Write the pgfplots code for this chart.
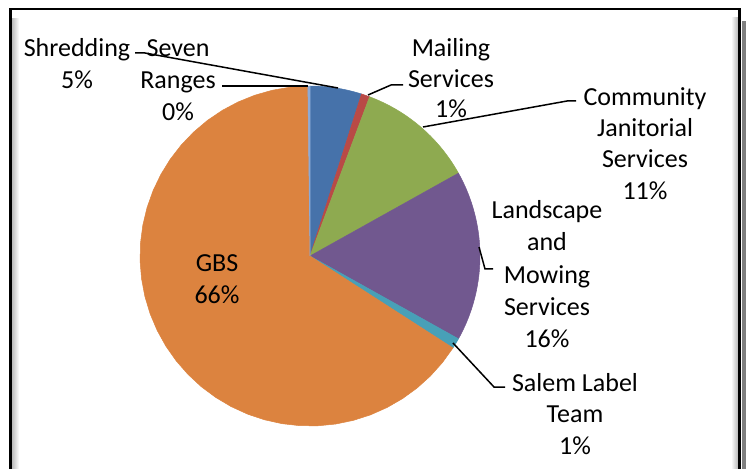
\documentclass[border=0pt]{standalone}
\usepackage{pgfplots}
\usepackage{pgfplotstable}
\pgfplotsset{compat=1.18}
\usepackage{fontspec}
\setmainfont{Carlito}

% pie shares in percent, clockwise from 12 o'clock
\pgfplotstableread{
name value
Shredding 4.9
Mailing 0.8
Janitorial 11.2
Landscape 16.2
SalemLabel 1.0
GBS 65.7
SevenRanges 0.2
}\piedata

\def\acc{0}
\def\angZ{0}
\newcommand\cumul[2]{%
  \pgfplotstablegetelem{#1}{value}\of\piedata
  \pgfmathsetmacro\acc{\acc+3.6*\pgfplotsretval}%
  \expandafter\let\csname ang#2\endcsname\acc}
\cumul{0}{A}\cumul{1}{B}\cumul{2}{C}\cumul{3}{D}\cumul{4}{E}\cumul{5}{F}\cumul{6}{G}

\definecolor{cBlue}{RGB}{70,114,170}
\definecolor{cRed}{RGB}{185,74,70}
\definecolor{cGreen}{RGB}{142,170,80}
\definecolor{cPurple}{RGB}{113,88,143}
\definecolor{cTeal}{RGB}{72,160,183}
\definecolor{cOrange}{RGB}{220,131,63}
\definecolor{cLight}{RGB}{140,170,215}

\newcommand\lblfont{\fontsize{10.4}{12.6}\selectfont}
\tikzset{lbl/.style={font=\lblfont, anchor=base, inner sep=0pt}}

\begin{document}
\begin{tikzpicture}
\useasboundingbox (0,0) rectangle (298.8pt,187.2pt);
\clip (0,0) rectangle (298.8pt,187.2pt);
\begin{axis}[
  width=298.8pt, height=187.2pt, scale only axis,
  xmin=0, xmax=747, ymin=0, ymax=468,
  hide axis, clip=false,
  slice/.style={line width=0.2pt, samples=40, variable=\t},
]
% frame with shadow
\shade[left color=black!28, right color=white] (axis cs:11.5,-10) rectangle (axis cs:19,449);
\shade[left color=white, right color=black!30] (axis cs:731,-10) rectangle (axis cs:738.5,450);
\fill[black!50] (axis cs:742,-10) rectangle (axis cs:746,447);
\draw[line width=0.9pt] (axis cs:10.5,-10) -- (axis cs:10.5,459) -- (axis cs:739.5,459) -- (axis cs:739.5,-10);

% slices
\addplot[slice, fill=cBlue, draw=cBlue, domain=\angZ:\angA] ({310+170*sin(\t)},{212+170*cos(\t)}) -- (axis cs:310,212) -- cycle;
\addplot[slice, fill=cRed, draw=cRed, domain=\angA:\angB] ({310+170*sin(\t)},{212+170*cos(\t)}) -- (axis cs:310,212) -- cycle;
\addplot[slice, fill=cGreen, draw=cGreen, domain=\angB:\angC] ({310+170*sin(\t)},{212+170*cos(\t)}) -- (axis cs:310,212) -- cycle;
\addplot[slice, fill=cPurple, draw=cPurple, domain=\angC:\angD] ({310+170*sin(\t)},{212+170*cos(\t)}) -- (axis cs:310,212) -- cycle;
\addplot[slice, fill=cTeal, draw=cTeal, domain=\angD:\angE] ({310+170*sin(\t)},{212+170*cos(\t)}) -- (axis cs:310,212) -- cycle;
\addplot[slice, fill=cOrange, draw=cOrange, domain=\angE:\angF] ({310+170*sin(\t)},{212+170*cos(\t)}) -- (axis cs:310,212) -- cycle;
\addplot[slice, fill=cLight, draw=cLight, domain=\angF:\angG] ({310+170*sin(\t)},{212+170*cos(\t)}) -- (axis cs:310,212) -- cycle;

% leader lines
\draw[line width=0.6pt] (axis cs:135,415) -- (axis cs:145,415) -- (axis cs:338,380);
\draw[line width=0.6pt] (axis cs:222,382) -- (axis cs:308,382);
\draw[line width=0.6pt] (axis cs:368,373) -- (axis cs:391,383) -- (axis cs:403,383);
\draw[line width=0.6pt] (axis cs:423,341) -- (axis cs:567,367) -- (axis cs:576,367);
\draw[line width=0.6pt] (axis cs:479,221) -- (axis cs:485,199) -- (axis cs:493,199);
\draw[line width=0.6pt] (axis cs:453,125) -- (axis cs:494,81) -- (axis cs:505,81);

% labels
\node[lbl] at (axis cs:77,411) {Shredding};
\node[lbl] at (axis cs:77,379) {5\%};
\node[lbl] at (axis cs:178,411) {Seven};
\node[lbl] at (axis cs:178,379) {Ranges};
\node[lbl] at (axis cs:178,347) {0\%};
\node[lbl] at (axis cs:451,411) {Mailing};
\node[lbl] at (axis cs:451,380) {Services};
\node[lbl] at (axis cs:451,350) {1\%};
\node[lbl] at (axis cs:645,362) {Community};
\node[lbl] at (axis cs:645,331) {Janitorial};
\node[lbl] at (axis cs:645,300) {Services};
\node[lbl] at (axis cs:645,268) {11\%};
\node[lbl] at (axis cs:547,249) {Landscape};
\node[lbl] at (axis cs:547,217) {and};
\node[lbl] at (axis cs:547,185) {Mowing};
\node[lbl] at (axis cs:547,153) {Services};
\node[lbl] at (axis cs:547,121) {16\%};
\node[lbl] at (axis cs:575,77) {Salem Label};
\node[lbl] at (axis cs:575,46) {Team};
\node[lbl] at (axis cs:575,14) {1\%};
\node[lbl] at (axis cs:217,196) {GBS};
\node[lbl] at (axis cs:217,165) {66\%};
\end{axis}
\end{tikzpicture}
\end{document}
